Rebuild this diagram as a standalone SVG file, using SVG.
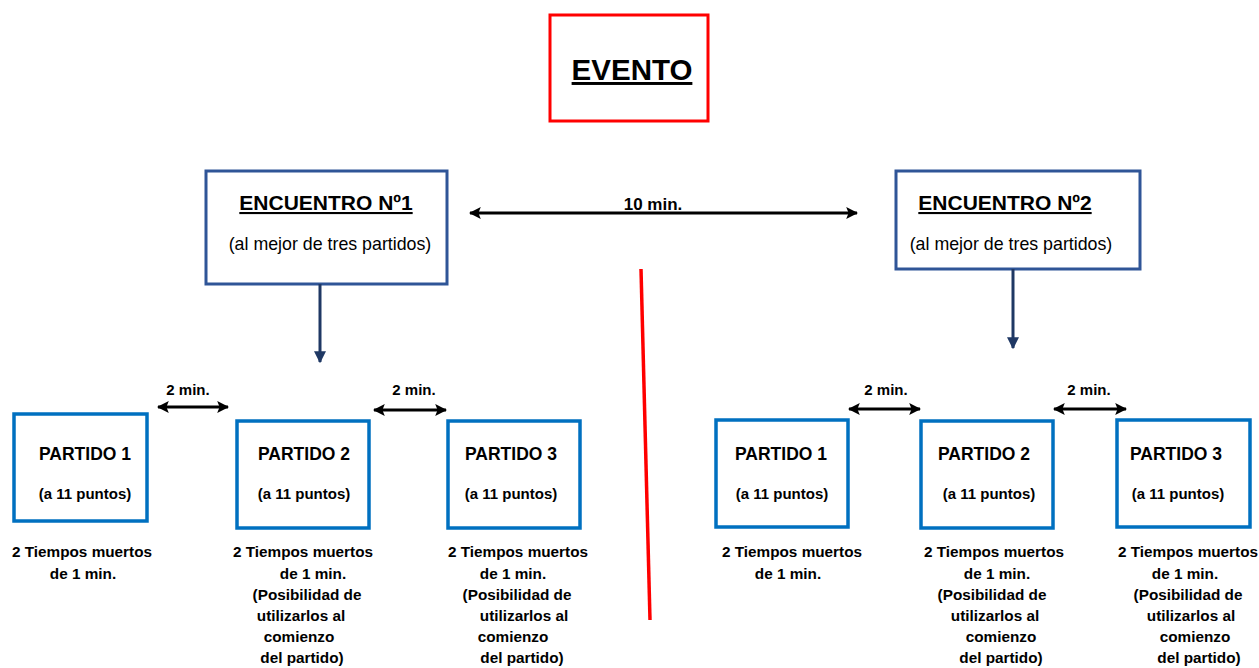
<svg xmlns="http://www.w3.org/2000/svg" width="1259" height="668" viewBox="0 0 1259 668">
<style>
text{font-family:"Liberation Sans",Arial,sans-serif;fill:#000;text-anchor:middle}
.b{font-weight:bold}
.u{text-decoration:underline}
.enc{fill:#fff;stroke:#2F5597;stroke-width:3}
.par{fill:#fff;stroke:#0070C0;stroke-width:3.5}
.pt{font-size:17.5px;font-weight:bold}
.ps{font-size:15px;font-weight:bold}
.min{font-size:15px;font-weight:bold}
.note{font-size:15.3px;font-weight:bold}
.harrow{stroke:#000;stroke-width:3;fill:none;marker-start:url(#ahs);marker-end:url(#ahe)}
.varrow{stroke:#1F3864;stroke-width:3;fill:none;marker-end:url(#ahv)}
</style>
<defs>
<marker id="ahe" viewBox="0 0 10 10" refX="9" refY="5" markerWidth="4" markerHeight="4" orient="auto" markerUnits="strokeWidth"><path d="M0,0 L10,5 L0,10 L2,5 z" fill="#000"/></marker>
<marker id="ahs" viewBox="0 0 10 10" refX="1" refY="5" markerWidth="4" markerHeight="4" orient="auto" markerUnits="strokeWidth"><path d="M10,0 L0,5 L10,10 L8,5 z" fill="#000"/></marker>
<marker id="ahv" viewBox="0 0 10 10" refX="9" refY="5" markerWidth="4" markerHeight="4" orient="auto" markerUnits="strokeWidth"><path d="M0,0 L10,5 L0,10 z" fill="#1F3864"/></marker>
</defs>
<rect width="1259" height="668" fill="#fff"/>

<g id="evento">
<rect x="550" y="15" width="158" height="106" fill="#fff" stroke="#FF0000" stroke-width="3"/>
<text x="632" y="80" class="b u" font-size="29.5">EVENTO</text>
</g>

<g id="encuentro1">
<rect x="206" y="171" width="241" height="113" class="enc"/>
<text x="326" y="210" class="b u" font-size="21">ENCUENTRO Nº1</text>
<text x="330" y="250" font-size="17.8">(al mejor de tres partidos)</text>
</g>

<g id="encuentro2">
<rect x="896" y="171" width="244" height="98" class="enc"/>
<text x="1005" y="210" class="b u" font-size="21">ENCUENTRO Nº2</text>
<text x="1011" y="250" font-size="17.8">(al mejor de tres partidos)</text>
</g>

<g id="divider">
<line x1="641" y1="269" x2="650" y2="620" stroke="#FF0000" stroke-width="3.5"/>
</g>

<g id="l-p1">
<rect x="14" y="414" width="133" height="107" class="par"/>
<text x="85" y="460" class="pt">PARTIDO 1</text>
<text x="85" y="499" class="ps">(a 11 puntos)</text>
</g>
<g id="l-p2">
<rect x="237" y="421" width="132" height="107" class="par"/>
<text x="304" y="460" class="pt">PARTIDO 2</text>
<text x="304" y="499" class="ps">(a 11 puntos)</text>
</g>
<g id="l-p3">
<rect x="448" y="421" width="132" height="107" class="par"/>
<text x="511" y="460" class="pt">PARTIDO 3</text>
<text x="511" y="499" class="ps">(a 11 puntos)</text>
</g>
<g id="r-p1">
<rect x="716" y="420" width="132" height="107" class="par"/>
<text x="781" y="460" class="pt">PARTIDO 1</text>
<text x="782" y="499" class="ps">(a 11 puntos)</text>
</g>
<g id="r-p2">
<rect x="921" y="421" width="132" height="107" class="par"/>
<text x="984" y="460" class="pt">PARTIDO 2</text>
<text x="989" y="499" class="ps">(a 11 puntos)</text>
</g>
<g id="r-p3">
<rect x="1117" y="420" width="133" height="107" class="par"/>
<text x="1176" y="460" class="pt">PARTIDO 3</text>
<text x="1178" y="499" class="ps">(a 11 puntos)</text>
</g>

<g id="connectors">
<line x1="470" y1="213" x2="857" y2="213" class="harrow"/>
<text x="653" y="210" class="b" font-size="17">10 min.</text>
<line x1="320" y1="284" x2="320" y2="362" class="varrow"/>
<line x1="1013" y1="269" x2="1013" y2="348" class="varrow"/>
<line x1="158" y1="407" x2="228" y2="407" class="harrow"/>
<text x="188" y="395" class="min">2 min.</text>
<line x1="374" y1="410" x2="446" y2="410" class="harrow"/>
<text x="414" y="395" class="min">2 min.</text>
<line x1="849" y1="409" x2="920" y2="409" class="harrow"/>
<text x="886" y="395" class="min">2 min.</text>
<line x1="1054" y1="409" x2="1126" y2="409" class="harrow"/>
<text x="1089" y="395" class="min">2 min.</text>
</g>

<g id="l-n1">
<text x="82" y="557" class="note">2 Tiempos muertos</text>
<text x="83" y="579" class="note">de 1 min.</text>
</g>
<g id="l-n2">
<text x="303" y="557" class="note">2 Tiempos muertos</text>
<text x="313" y="579" class="note">de 1 min.</text>
<text x="307" y="600" class="note">(Posibilidad de</text>
<text x="301" y="621" class="note">utilizarlos al</text>
<text x="299" y="642" class="note">comienzo</text>
<text x="302" y="663" class="note">del partido)</text>
</g>
<g id="l-n3">
<text x="518" y="557" class="note">2 Tiempos muertos</text>
<text x="513" y="579" class="note">de 1 min.</text>
<text x="517" y="600" class="note">(Posibilidad de</text>
<text x="524" y="621" class="note">utilizarlos al</text>
<text x="513" y="642" class="note">comienzo</text>
<text x="522" y="663" class="note">del partido)</text>
</g>
<g id="r-n1">
<text x="792" y="557" class="note">2 Tiempos muertos</text>
<text x="788" y="579" class="note">de 1 min.</text>
</g>
<g id="r-n2">
<text x="994" y="557" class="note">2 Tiempos muertos</text>
<text x="997" y="579" class="note">de 1 min.</text>
<text x="992" y="600" class="note">(Posibilidad de</text>
<text x="995" y="621" class="note">utilizarlos al</text>
<text x="1001" y="642" class="note">comienzo</text>
<text x="1001" y="663" class="note">del partido)</text>
</g>
<g id="r-n3">
<text x="1188" y="557" class="note">2 Tiempos muertos</text>
<text x="1185" y="579" class="note">de 1 min.</text>
<text x="1188" y="600" class="note">(Posibilidad de</text>
<text x="1191" y="621" class="note">utilizarlos al</text>
<text x="1195" y="642" class="note">comienzo</text>
<text x="1199" y="663" class="note">del partido)</text>
</g>
</svg>
